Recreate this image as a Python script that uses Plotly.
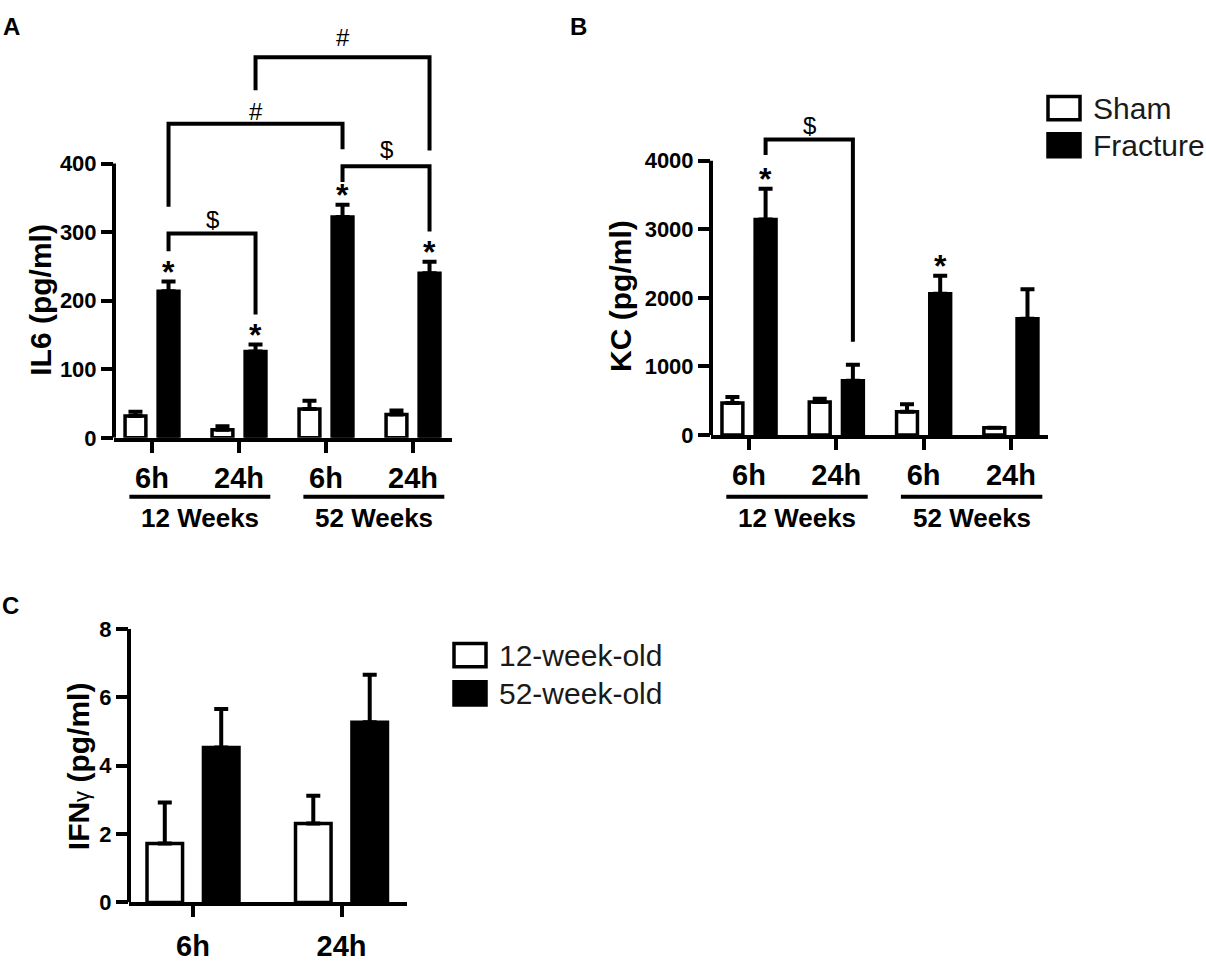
import plotly.graph_objects as go

W, H = 1206, 962

# ---- data ----
times = ["6h", "24h", "6h", "24h"]
ages = ["12 Weeks", "52 Weeks"]

# A: IL6
il6_sham = [32, 12, 42, 34]
il6_sham_err = [6, 5, 12, 6]
il6_frac = [214, 126, 322, 240]
il6_frac_err = [14, 10, 18, 17]
il6_star = [True, True, True, True]
# (left bar, right bar, left end, top, right end, label, label y)
il6_brackets = [
    (0, 1, 272, 298, 180, "$", 318),
    (2, 3, 373, 396, 301, "$", 420),
    (0, 2, 337, 458, 421, "#", 476),
    (1, 3, 507, 555, 419, "#", 584),
]

# B: KC
kc_sham = [465, 480, 340, 105]
kc_sham_err = [88, 48, 108, None]
kc_frac = [3141, 790, 2060, 1695]
kc_frac_err = [451, 235, 264, 430]
kc_star = [True, False, True, False]
kc_brackets = [(0, 1, 4085, 4310, 1359, "$", 4510)]

# C: IFNg
c_times = ["6h", "24h"]
ifng_12 = [1.72, 2.31]
ifng_12_err = [1.2, 0.81]
ifng_52 = [4.53, 5.27]
ifng_52_err = [1.13, 1.39]

FONT = "Liberation Sans, Arial, sans-serif"
BAR_OFF = 0.19

fig = go.Figure()


def add_bars(xa, ya, n, yl, yl_err, yr, yr_err, names):
    xs = list(range(n))
    for vals, errs, fill, name in [(yl, yl_err, "white", names[0]),
                                   (yr, yr_err, "black", names[1])]:
        fig.add_trace(go.Bar(
            x=xs, y=vals, name=name, xaxis=xa, yaxis=ya,
            marker=dict(color=fill, line=dict(color="black", width=3.5)),
            error_y=dict(type="data", symmetric=False, array=errs,
                         arrayminus=[0] * n, color="black", thickness=4, width=7),
            showlegend=False,
        ))


add_bars("x", "y", 4, il6_sham, il6_sham_err, il6_frac, il6_frac_err, ["Sham", "Fracture"])
add_bars("x2", "y2", 4, kc_sham, kc_sham_err, kc_frac, kc_frac_err, ["Sham", "Fracture"])
add_bars("x3", "y3", 2, ifng_12, ifng_12_err, ifng_52, ifng_52_err, ["12-week-old", "52-week-old"])


def xaxis_cfg(axis_px, first_px, step, end_px, labels, anchor, standoff=0):
    return dict(
        domain=[axis_px / W, end_px / W],
        range=[(axis_px - first_px) / step, (end_px - first_px) / step],
        tickvals=list(range(len(labels))), ticktext=labels,
        showline=True, linewidth=4, linecolor="black",
        ticks="outside", ticklen=11, tickwidth=4, tickcolor="black",
        ticklabelstandoff=standoff,
        tickfont=dict(family=FONT, size=29, color="black", weight="bold"),
        showgrid=False, zeroline=False, anchor=anchor, fixedrange=True,
    )


def yaxis_cfg(zero_px, px_per_unit, ymax, tickvals, anchor):
    top = zero_px - ymax * px_per_unit
    return dict(
        domain=[1 - zero_px / H, 1 - top / H],
        range=[0, ymax], tickvals=tickvals,
        showline=False, ticks="outside", ticklen=12, tickwidth=4, tickcolor="black",
        tickfont=dict(family=FONT, size=22, color="black", weight="bold"),
        showgrid=False, zeroline=False, anchor=anchor, fixedrange=True,
    )


fig.update_layout(
    width=W, height=H, margin=dict(l=0, r=0, t=0, b=0),
    paper_bgcolor="white", plot_bgcolor="white",
    barmode="group", bargap=0.24, bargroupgap=0.37,
    xaxis=xaxis_cfg(114, 152, 87, 452, times, "y"),
    yaxis=yaxis_cfg(441, 0.71, 620, [0, 100, 200, 300, 400], "x"),
    xaxis2=xaxis_cfg(711, 749, 87.3, 1048, times, "y2"),
    yaxis2=yaxis_cfg(438, 0.071, 6000, [0, 1000, 2000, 3000, 4000], "x2"),
    xaxis3=xaxis_cfg(129, 193, 148.5, 407, c_times, "y3", standoff=4),
    yaxis3=yaxis_cfg(922, 35.4, 8, [0, 2, 4, 6, 8], "x3"),
)

shapes = []
annos = []

# y axis lines only up to the top tick
for xr, yr, top in [("x", "y", 400), ("x2", "y2", 4000), ("x3", "y3", 8)]:
    shapes.append(dict(type="line", xref=xr + " domain", yref=yr, x0=0, x1=0,
                       y0=0, y1=top, line=dict(color="black", width=4)))

# significance brackets and stars
for xr, yr, brackets in [("x", "y", il6_brackets), ("x2", "y2", kc_brackets)]:
    for i0, i1, yl, yt, yrr, lab, ly in brackets:
        xl, xrr = i0 + BAR_OFF, i1 + BAR_OFF
        shapes.append(dict(type="path", xref=xr, yref=yr,
                           path=f"M {xl},{yl} L {xl},{yt} L {xrr},{yt} L {xrr},{yrr}",
                           line=dict(color="black", width=4)))
        annos.append(dict(x=(xl + xrr) / 2, y=ly, xref=xr, yref=yr, text=lab,
                          showarrow=False, yanchor="middle",
                          font=dict(family=FONT, size=24, color="black")))

for xr, yr, vals, errs, stars in [("x", "y", il6_frac, il6_frac_err, il6_star),
                                  ("x2", "y2", kc_frac, kc_frac_err, kc_star)]:
    for i, (v, e, s) in enumerate(zip(vals, errs, stars)):
        if s:
            annos.append(dict(x=i + BAR_OFF, y=v + e, xref=xr, yref=yr, text="*",
                              showarrow=False, yanchor="bottom", yshift=-10,
                              font=dict(family=FONT, size=32, color="black", weight="bold")))

# age group lines under time labels
for xr in ["x", "x2"]:
    for g, name in enumerate(ages):
        cx = 2 * g + 0.55
        shapes.append(dict(type="line", xref=xr, yref="paper",
                           x0=cx - 0.81, x1=cx + 0.81, y0=1 - 502 / H, y1=1 - 502 / H,
                           line=dict(color="black", width=4)))
        annos.append(dict(x=cx, y=1 - 524 / H, xref=xr, yref="paper", text=name,
                          showarrow=False, yanchor="middle",
                          font=dict(family=FONT, size=26, color="black", weight="bold")))

# y titles
for x_px, y_px, txt in [(41, 298, "IL6 (pg/ml)"), (621, 294, "KC (pg/ml)"),
                        (78, 781, "IFN<span style='font-weight:normal;font-size:22px'>γ</span> (pg/ml)")]:
    annos.append(dict(x=x_px / W, y=1 - y_px / H, xref="paper", yref="paper", text=txt,
                      textangle=-90, showarrow=False, xanchor="center", yanchor="middle",
                      font=dict(family=FONT, size=30, color="black", weight="bold")))

# panel letters
for x_px, y_px, txt in [(11, 15, "A"), (578, 15, "B"), (10, 615, "C")]:
    annos.append(dict(x=x_px / W, y=1 - y_px / H, xref="paper", yref="paper", text=txt,
                      showarrow=False, xanchor="center", yanchor="middle",
                      font=dict(family=FONT, size=24, color="black", weight="bold")))

# legends
for bx, by_list, labels in [(1046, [99.5, 138], ["Sham", "Fracture"]),
                            (452, [666, 705.5], ["12-week-old", "52-week-old"])]:
    for k, (cy, lab) in enumerate(zip(by_list, labels)):
        shapes.append(dict(type="rect", xref="paper", yref="paper",
                           x0=(bx + 2) / W, x1=(bx + 34) / W,
                           y0=1 - (cy + 12) / H, y1=1 - (cy - 12) / H,
                           fillcolor="white" if k == 0 else "black",
                           line=dict(color="black", width=3.5)))
        annos.append(dict(x=(bx + 45) / W, y=1 - cy / H, xref="paper", yref="paper",
                          text=lab, showarrow=False, xanchor="left", yanchor="middle",
                          font=dict(family=FONT, size=30, color="#1a1a1a")))

fig.update_layout(shapes=shapes, annotations=annos)
fig.write_html("out.html", config={"displayModeBar": False},
               post_script="document.body.style.margin='0';document.body.style.overflow='hidden';")
